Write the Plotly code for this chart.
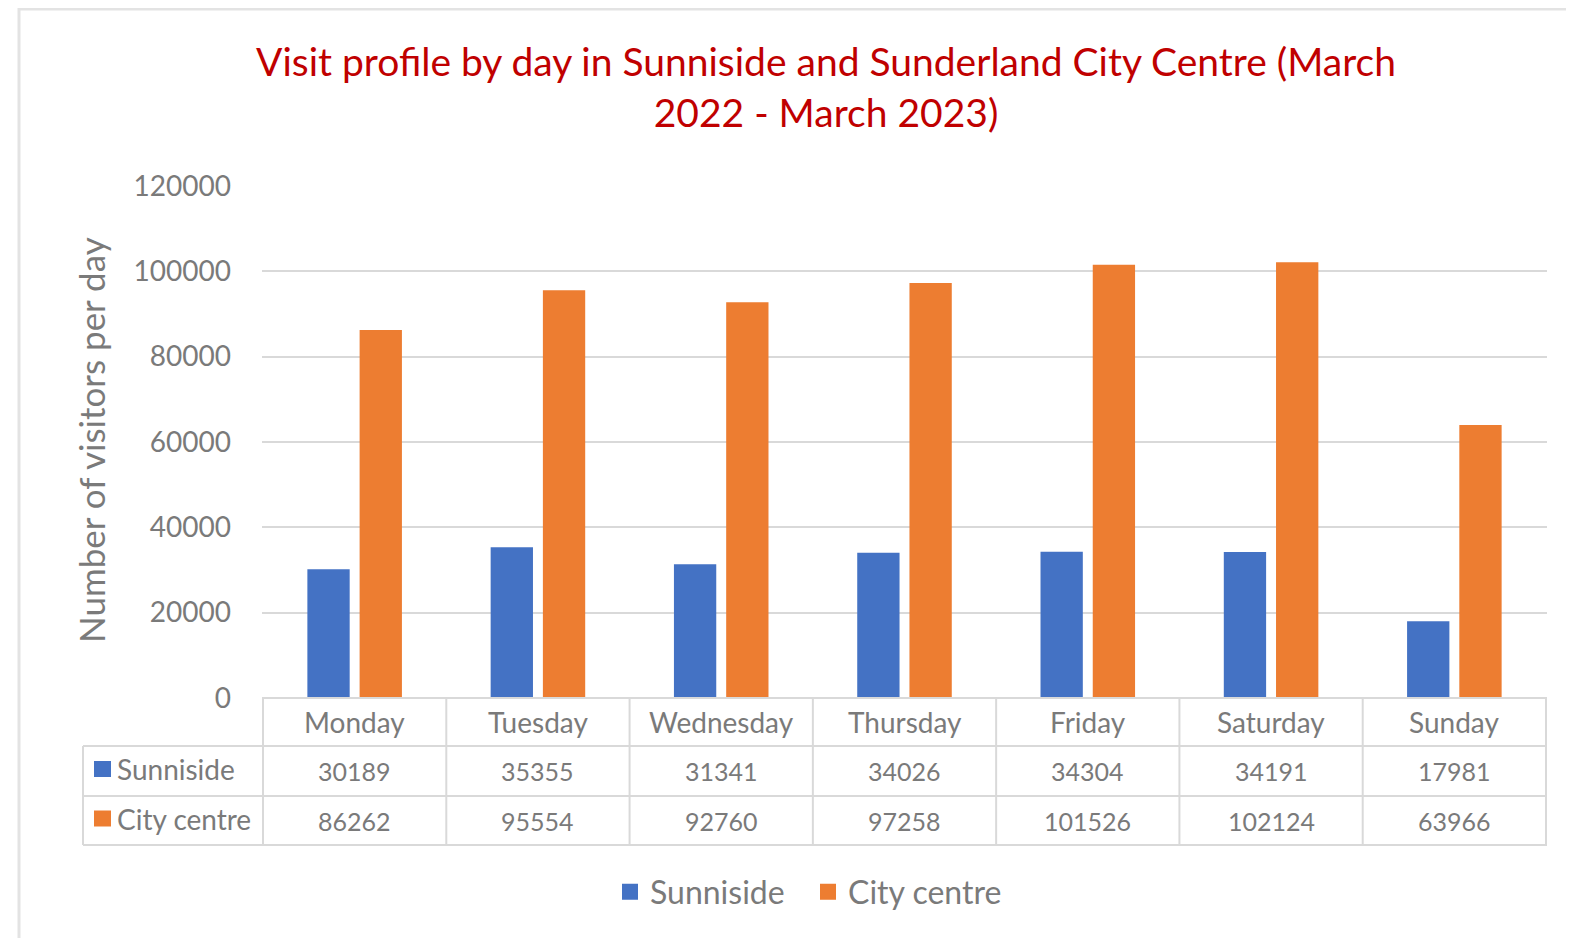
import plotly.graph_objects as go

days = ["Monday", "Tuesday", "Wednesday", "Thursday", "Friday", "Saturday", "Sunday"]
sunniside = [30189, 35355, 31341, 34026, 34304, 34191, 17981]
city_centre = [86262, 95554, 92760, 97258, 101526, 102124, 63966]
series_names = ["Sunniside", "City centre"]
colors = ["#4472C4", "#ED7D31"]
title_text = "Visit profile by day in Sunniside and Sunderland City Centre (March<br>2022 - March 2023)"
y_title = "Number of visitors per day"
y_ticks = [0, 20000, 40000, 60000, 80000, 100000, 120000]

OFF = 8  # page body margin
W, H = 1574 - 2 * OFF, 946 - 2 * OFF
L, R, T, B = 262, 1547, 186, 698   # plot area in page pixels
pw, ph = R - L, B - T

def px(x):
    return (x - L) / pw

def py(y):
    return (B - y) / ph

FONT = "Lato"
GREY = "#7a7a7a"
LINE = "#D9D9D9"

fig = go.Figure()
for name, vals, c in zip(series_names, [sunniside, city_centre], colors):
    fig.add_trace(go.Bar(x=days, y=vals, name=name, marker=dict(color=c, line=dict(width=0)),
                         showlegend=False))
# legend entries with larger square keys
for name, c in zip(series_names, colors):
    fig.add_trace(go.Scatter(x=[None], y=[None], mode="markers", name=name,
                             marker=dict(symbol="square", size=26, color=c), showlegend=True))

shapes = []
annotations = []

# outer chart frame
shapes.append(dict(type="rect", xref="paper", yref="paper", x0=px(19), x1=px(1640), y0=py(9), y1=py(1000),
                   line=dict(color="#E3E3E3", width=3), fillcolor="rgba(0,0,0,0)", layer="below"))

# data table
row_y = [698, 746, 796, 845]
n = len(days)
shapes.append(dict(type="line", xref="paper", yref="paper", x0=0, x1=1, y0=py(row_y[0]), y1=py(row_y[0]),
                   line=dict(color=LINE, width=2)))
for yy in row_y[1:]:
    shapes.append(dict(type="line", xref="paper", yref="paper", x0=px(83), x1=1, y0=py(yy), y1=py(yy),
                       line=dict(color=LINE, width=2)))
for i in range(n + 1):
    shapes.append(dict(type="line", xref="x", yref="paper", x0=i - 0.5, x1=i - 0.5,
                       y0=py(row_y[0]), y1=py(row_y[3]), line=dict(color=LINE, width=2)))
shapes.append(dict(type="line", xref="paper", yref="paper", x0=px(83), x1=px(83),
                   y0=py(row_y[1]), y1=py(row_y[3]), line=dict(color=LINE, width=2)))

row_centers = [(row_y[i] + row_y[i + 1]) / 2 for i in range(3)]
for i, d in enumerate(days):
    annotations.append(dict(x=d, xref="x", y=py(row_centers[0]), yref="paper", text=d, showarrow=False,
                            font=dict(family=FONT, size=28, color=GREY), xanchor="center", yanchor="middle"))
    for r, vals in enumerate([sunniside, city_centre]):
        annotations.append(dict(x=d, xref="x", y=py(row_centers[r + 1]), yref="paper", text=str(vals[i]),
                                showarrow=False, font=dict(family=FONT, size=25, color=GREY),
                                xanchor="center", yanchor="middle"))
for r, (name, c) in enumerate(zip(series_names, colors)):
    cy = row_centers[r + 1] - 2
    shapes.append(dict(type="rect", xref="paper", yref="paper", x0=px(94), x1=px(111), y0=py(cy - 8), y1=py(cy + 8),
                       fillcolor=c, line=dict(width=0)))
    annotations.append(dict(x=px(115), xref="paper", y=py(cy), yref="paper", text=name, showarrow=False,
                            font=dict(family=FONT, size=28, color=GREY), xanchor="left", yanchor="middle"))

# y axis title
annotations.append(dict(x=px(91), xref="paper", y=py(440), yref="paper", text=y_title, textangle=-90,
                        showarrow=False, font=dict(family=FONT, size=35, color=GREY),
                        xanchor="center", yanchor="middle"))

fig.update_layout(
    width=W, height=H,
    margin=dict(l=L - OFF, r=W + OFF - R, t=T - OFF, b=H + OFF - B, autoexpand=False),
    paper_bgcolor="white", plot_bgcolor="white",
    title=dict(text=title_text, x=px(826), xref="paper", xanchor="center", y=1 - (76 - OFF) / H,
               yanchor="middle", font=dict(family=FONT, size=39, color="#C00000")),
    barmode="group", bargap=0.43, bargroupgap=0.19,
    xaxis=dict(showticklabels=False, showgrid=False, showline=False, zeroline=False, ticks=""),
    yaxis=dict(range=[0, 120000], tickvals=y_ticks, ticktext=[str(v) for v in y_ticks],
               showgrid=True, gridcolor=LINE, gridwidth=2, zeroline=False, showline=False,
               tickfont=dict(family=FONT, size=28, color=GREY), ticklabelstandoff=30),
    legend=dict(orientation="h", x=px(808), xref="paper", xanchor="center", y=py(892), yanchor="middle",
                font=dict(family=FONT, size=32, color=GREY), traceorder="normal", itemwidth=30,
                entrywidth=153, entrywidthmode="pixels"),
    shapes=shapes, annotations=annotations,
    showlegend=True,
)

fig.write_html("out.html")
